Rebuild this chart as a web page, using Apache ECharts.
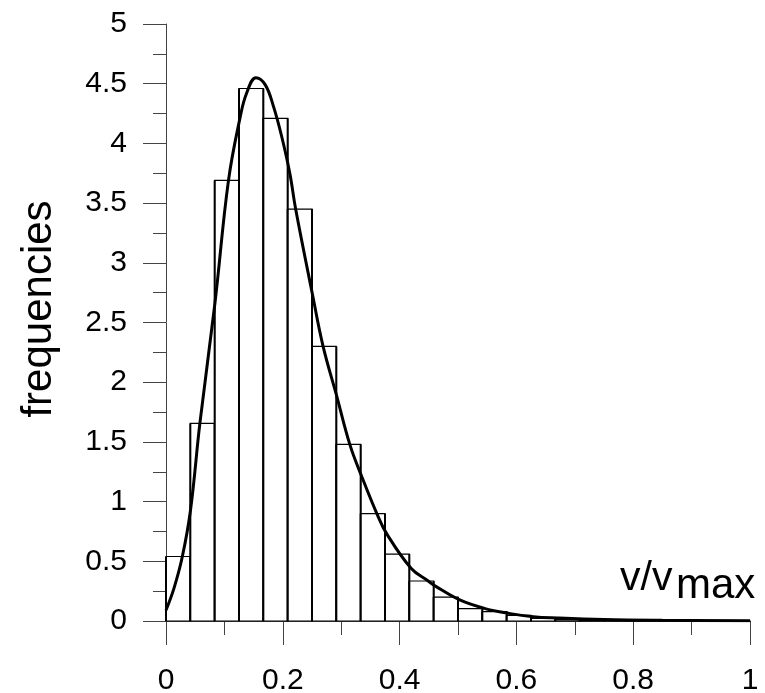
<!DOCTYPE html>
<html>
<head>
<meta charset="utf-8">
<script src="https://cdn.jsdelivr.net/npm/echarts@6/dist/echarts.min.js"></script>
<style>
  html, body { margin: 0; padding: 0; background: #fff; }
  #chart { width: 765px; height: 693px; }
</style>
</head>
<body>
<div id="chart"></div>
<script>
// histogram: 24 bins over [0, 1]
var binWidth = 1 / 24;
var barValues = [0.54, 1.655, 3.69, 4.46, 4.21, 3.45, 2.30, 1.48, 0.90, 0.56, 0.335, 0.20,
                 0.103, 0.078, 0.047, 0.022, 0.011, 0.006, 0.004, 0.003, 0.002, 0.002, 0.001, 0.001];

// fitted curve
var curveX = [0, 0.014, 0.028, 0.042, 0.058, 0.084, 0.107, 0.127, 0.138, 0.154, 0.170, 0.184,
              0.198, 0.212, 0.222, 0.251, 0.269, 0.292, 0.315, 0.336, 0.361, 0.378, 0.420,
              0.449, 0.462, 0.503, 0.545, 0.587, 0.629, 0.67, 0.75, 0.85, 1.0];
var curveY = [0.09, 0.28, 0.54, 0.93, 1.655, 2.67, 3.69, 4.22, 4.42, 4.55, 4.49, 4.31,
              4.06, 3.75, 3.45, 2.73, 2.30, 1.89, 1.475, 1.20, 0.90, 0.73, 0.44,
              0.335, 0.29, 0.176, 0.106, 0.064, 0.036, 0.025, 0.012, 0.006, 0.003];

var xTicks = { min: 0, max: 1, interval: 0.2 };
var yTicks = { min: 0, max: 5, interval: 0.5 };

var fontFam = '"Liberation Sans", Arial, sans-serif';
var axisColor = '#444';

var barData = barValues.map(function (v, i) {
    return [i * binWidth, (i + 1) * binWidth, v];
});
var curveData = curveX.map(function (x, i) { return [x, curveY[i]]; });

var chart = echarts.init(document.getElementById('chart'));
var option = {
    animation: false,
    backgroundColor: '#fff',
    grid: { left: 166, right: 15, top: 24, bottom: 72, outerBoundsMode: 'none' },
    xAxis: {
        type: 'value',
        min: xTicks.min,
        max: xTicks.max,
        interval: xTicks.interval,
        axisLine: { show: true, onZero: false, lineStyle: { color: axisColor, width: 1 } },
        axisTick: { show: true, length: 24, lineStyle: { color: axisColor } },
        minorTick: { show: true, splitNumber: 2, length: 14, lineStyle: { color: axisColor } },
        splitLine: { show: false },
        axisLabel: { margin: 45, color: '#000', fontSize: 30, fontFamily: fontFam }
    },
    yAxis: {
        type: 'value',
        min: yTicks.min,
        max: yTicks.max,
        interval: yTicks.interval,
        axisLine: { show: true, onZero: false, lineStyle: { color: axisColor, width: 1 } },
        axisTick: { show: true, length: 23, lineStyle: { color: axisColor } },
        minorTick: { show: true, splitNumber: 2, length: 13, lineStyle: { color: axisColor } },
        splitLine: { show: false },
        axisLabel: { margin: 39, color: '#000', fontSize: 30, fontFamily: fontFam }
    },
    graphic: [
        {
            type: 'text',
            x: 39, y: 309,
            rotation: Math.PI / 2,
            style: { text: 'frequencies', fill: '#000', font: '42px ' + fontFam, align: 'center', verticalAlign: 'middle' }
        },
        {
            type: 'text',
            x: 620, y: 579,
            style: { text: 'v/v', fill: '#000', font: '41px ' + fontFam, align: 'left', verticalAlign: 'middle' }
        },
        {
            type: 'text',
            x: 676, y: 586,
            style: { text: 'max', fill: '#000', font: '42px ' + fontFam, align: 'left', verticalAlign: 'middle' }
        }
    ],
    series: [
        {
            type: 'custom',
            data: barData,
            renderItem: function (params, api) {
                var p0 = api.coord([api.value(0), api.value(2)]);
                var p1 = api.coord([api.value(1), 0]);
                // thin top edge, heavier sides like the original plot
                return {
                    type: 'group',
                    children: [
                        {
                            type: 'rect',
                            shape: { x: p0[0], y: p0[1], width: p1[0] - p0[0], height: p1[1] - p0[1] },
                            style: { fill: '#fff', stroke: '#000', lineWidth: 1.2 }
                        },
                        {
                            type: 'line',
                            shape: { x1: p0[0], y1: p0[1], x2: p0[0], y2: p1[1] },
                            style: { stroke: '#000', lineWidth: 2 }
                        },
                        {
                            type: 'line',
                            shape: { x1: p1[0], y1: p0[1], x2: p1[0], y2: p1[1] },
                            style: { stroke: '#000', lineWidth: 2 }
                        }
                    ]
                };
            },
            z: 2
        },
        {
            type: 'line',
            data: curveData,
            smooth: 0.4,
            showSymbol: false,
            symbol: 'none',
            lineStyle: { color: '#000', width: 3 },
            z: 3
        }
    ]
};
chart.setOption(option);
</script>
</body>
</html>
